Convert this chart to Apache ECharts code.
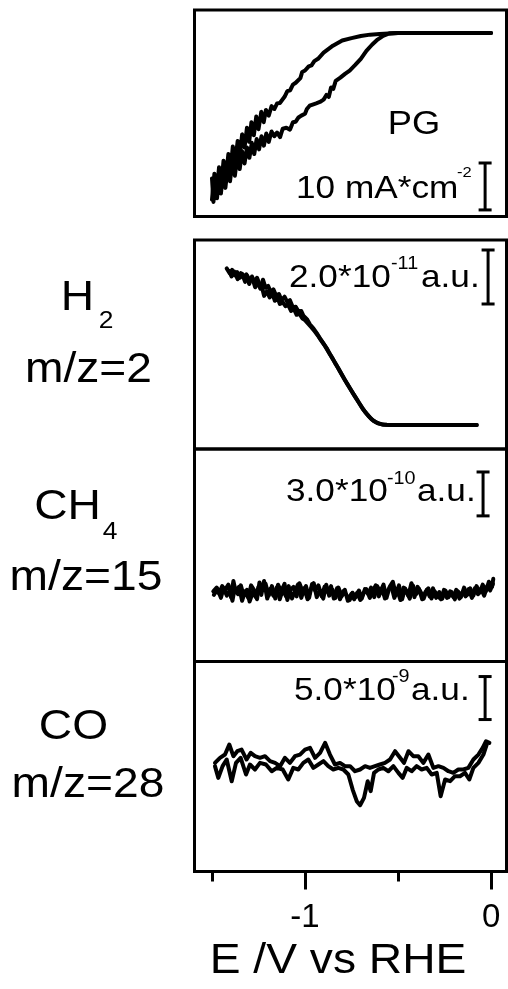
<!DOCTYPE html>
<html><head><meta charset="utf-8">
<script src="https://cdn.jsdelivr.net/npm/echarts@6/dist/echarts.min.js"></script>
<style>html,body{margin:0;padding:0;background:#fff}#c{width:508px;height:989px}</style>
</head><body><div id="c"></div>
<script>
// ---------- DATA (E in V vs RHE) ----------
// Panel 1: current density, mA*cm^-2
const cvUpper = [[0,0],[-0.2,0],[-0.4,0.02],[-0.5,-0.02],[-0.55,-0.08],[-0.6,-0.2],[-0.65,-0.35],[-0.7,-0.65],[-0.75,-1.1],[-0.8,-1.6],[-0.85,-2.7],[-0.9,-4.2],[-0.93,-5.5],[-0.95,-6.0],[-0.965,-6.9],[-0.98,-7.1],[-1.0,-8.0],[-1.015,-8.3],[-1.025,-9.6],[-1.035,-9.2],[-1.05,-10.6],[-1.065,-11.0],[-1.08,-12.2],[-1.095,-12.4],[-1.11,-13.6],[-1.12,-13.2],[-1.135,-14.9],[-1.15,-15.0],[-1.165,-16.2],[-1.18,-15.6],[-1.195,-17.6],[-1.21,-16.4],[-1.222,-19.0],[-1.235,-16.8],[-1.25,-20.5],[-1.262,-17.8],[-1.275,-21.8],[-1.288,-19.0],[-1.30,-23.2],[-1.312,-20.2],[-1.325,-24.4],[-1.338,-21.6],[-1.35,-26.0],[-1.362,-23.0],[-1.375,-27.5],[-1.388,-24.2],[-1.40,-29.0],[-1.412,-25.8],[-1.425,-30.8],[-1.438,-27.2],[-1.45,-32.5],[-1.462,-28.6],[-1.475,-34.0],[-1.487,-30.0],[-1.50,-35.5]];
const cvLower = [[-1.50,-31.0],[-1.492,-36.0],[-1.483,-31.5],[-1.473,-35.2],[-1.462,-30.5],[-1.452,-34.2],[-1.44,-29.6],[-1.428,-33.0],[-1.415,-28.4],[-1.403,-31.6],[-1.39,-27.2],[-1.377,-30.4],[-1.364,-26.2],[-1.351,-29.0],[-1.338,-25.2],[-1.325,-27.8],[-1.312,-24.4],[-1.299,-26.6],[-1.286,-23.4],[-1.273,-25.8],[-1.26,-22.6],[-1.247,-24.8],[-1.234,-22.0],[-1.221,-24.0],[-1.208,-21.4],[-1.195,-23.2],[-1.18,-21.0],[-1.165,-22.0],[-1.15,-21.2],[-1.134,-22.2],[-1.12,-20.4],[-1.10,-20.2],[-1.081,-20.6],[-1.065,-19.0],[-1.05,-18.9],[-1.035,-18.0],[-1.02,-17.6],[-1.0,-17.2],[-0.99,-16.2],[-0.975,-15.5],[-0.955,-15.2],[-0.94,-15.0],[-0.92,-14.7],[-0.9,-14.2],[-0.885,-13.2],[-0.872,-13.6],[-0.86,-11.6],[-0.848,-11.9],[-0.835,-10.2],[-0.81,-9.5],[-0.785,-8.7],[-0.76,-8.0],[-0.73,-6.8],[-0.70,-5.5],[-0.67,-3.8],[-0.64,-2.5],[-0.61,-1.4],[-0.58,-0.6],[-0.55,-0.15],[-0.5,0],[-0.3,0],[0,0]];
// Panel 2: H2 m/z=2, units of 1e-11 a.u.
const h2Fwd = [[-1.421,5.80],[-1.405,5.62],[-1.392,5.74],[-1.378,5.55],[-1.365,5.66],[-1.350,5.45],[-1.338,5.60],[-1.322,5.30],[-1.310,5.52],[-1.296,5.35],[-1.282,5.42],[-1.268,5.10],[-1.255,5.28],[-1.240,5.05],[-1.226,5.38],[-1.212,5.08],[-1.198,5.15],[-1.184,4.92],[-1.170,5.02],[-1.155,4.78],[-1.140,4.85],[-1.126,4.62],[-1.110,4.75],[-1.095,4.55],[-1.081,4.62],[-1.065,4.35],[-1.050,4.38],[-1.035,4.20],[-1.020,4.22],[-1.009,4.05],[-0.990,3.92],[-0.973,3.72],[-0.955,3.58],[-0.937,3.40],[-0.919,3.20],[-0.901,3.02],[-0.883,2.84],[-0.866,2.62],[-0.848,2.42],[-0.830,2.20],[-0.812,1.98],[-0.794,1.77],[-0.776,1.55],[-0.758,1.35],[-0.740,1.15],[-0.722,0.96],[-0.704,0.76],[-0.687,0.57],[-0.669,0.42],[-0.651,0.28],[-0.633,0.16],[-0.615,0.09],[-0.597,0.04],[-0.579,0.01],[-0.543,0],[-0.4,0],[-0.25,0],[-0.077,0]];
const h2Rev = [[-1.408,5.70],[-1.395,5.50],[-1.380,5.68],[-1.362,5.40],[-1.345,5.62],[-1.330,5.48],[-1.315,5.58],[-1.300,5.22],[-1.285,5.50],[-1.272,5.28],[-1.258,5.45],[-1.245,5.22],[-1.232,5.12],[-1.220,4.78],[-1.205,4.95],[-1.190,4.72],[-1.176,4.88],[-1.162,4.60],[-1.148,4.72],[-1.135,4.48],[-1.120,4.55],[-1.105,4.40],[-1.090,4.45],[-1.075,4.22],[-1.060,4.30],[-1.045,4.08],[-1.030,4.12],[-1.015,3.95],[-1.000,3.88],[-0.982,3.74],[-0.964,3.60],[-0.946,3.45],[-0.928,3.28],[-0.910,3.10],[-0.892,2.92],[-0.875,2.72],[-0.857,2.52],[-0.839,2.30],[-0.821,2.10],[-0.803,1.88],[-0.785,1.66],[-0.767,1.46],[-0.749,1.25],[-0.731,1.05],[-0.713,0.85],[-0.695,0.66],[-0.678,0.49],[-0.660,0.34],[-0.642,0.21],[-0.624,0.12],[-0.606,0.06],[-0.588,0.03],[-0.56,0.01],[-0.5,0],[-0.3,0],[-0.077,0]];
// Panel 3: CH4 m/z=15, units of 1e-10 a.u.
const ch4A = [[-1.493,0.10],[-1.475,0.35],[-1.462,-0.05],[-1.445,0.45],[-1.430,0.20],[-1.412,0.55],[-1.398,-0.30],[-1.385,0.80],[-1.372,0.05],[-1.355,0.40],[-1.338,-0.55],[-1.322,0.10],[-1.305,-0.35],[-1.290,0.50],[-1.272,0.15],[-1.258,-0.45],[-1.245,0.70],[-1.228,0.25],[-1.212,0.62],[-1.195,-0.20],[-1.178,0.45],[-1.160,-0.40],[-1.145,0.55],[-1.128,0.10],[-1.110,0.60],[-1.095,-0.50],[-1.078,0.20],[-1.062,0.40],[-1.045,-0.25],[-1.030,0.65],[-1.012,0.05],[-0.995,0.45],[-0.978,-0.35],[-0.962,0.60],[-0.945,0.15],[-0.928,0.50],[-0.910,-0.25],[-0.895,0.40],[-0.878,0.05],[-0.860,0.45],[-0.845,-0.40],[-0.828,0.30],[-0.812,-0.45],[-0.795,0.10],[-0.778,-0.15],[-0.760,-0.50],[-0.745,0.00],[-0.728,-0.30],[-0.710,0.15],[-0.695,-0.40],[-0.678,0.25],[-0.660,-0.10],[-0.645,0.35],[-0.628,-0.30],[-0.612,0.45],[-0.595,0.05],[-0.578,0.55],[-0.562,-0.35],[-0.545,0.40],[-0.528,0.75],[-0.512,-0.10],[-0.495,0.50],[-0.478,-0.45],[-0.462,0.30],[-0.445,-0.20],[-0.428,0.65],[-0.412,-0.30],[-0.395,0.40],[-0.378,0.05],[-0.362,-0.40],[-0.345,0.20],[-0.330,-0.25],[-0.312,0.30],[-0.295,-0.35],[-0.278,0.05],[-0.262,-0.40],[-0.245,0.15],[-0.228,-0.30],[-0.212,0.05],[-0.195,-0.45],[-0.178,0.10],[-0.162,-0.30],[-0.145,0.35],[-0.128,-0.15],[-0.112,0.30],[-0.095,-0.20],[-0.078,0.45],[-0.062,0.00],[-0.045,0.55],[-0.028,0.10],[-0.012,0.75],[0.005,0.40],[0.012,0.95]];
const ch4B = [[-1.490,-0.15],[-1.470,0.25],[-1.452,-0.35],[-1.438,0.30],[-1.420,-0.20],[-1.405,0.15],[-1.390,-0.55],[-1.378,0.30],[-1.360,-0.10],[-1.345,0.50],[-1.330,-0.20],[-1.312,0.20],[-1.298,-0.60],[-1.280,0.05],[-1.265,-0.30],[-1.250,0.40],[-1.235,-0.15],[-1.220,0.80],[-1.203,-0.40],[-1.188,0.25],[-1.170,-0.20],[-1.152,0.35],[-1.136,-0.45],[-1.120,0.20],[-1.102,-0.25],[-1.088,0.45],[-1.070,-0.40],[-1.054,0.10],[-1.038,0.55],[-1.020,-0.35],[-1.004,0.30],[-0.986,-0.45],[-0.970,0.20],[-0.953,0.65],[-0.937,-0.30],[-0.920,0.15],[-0.902,-0.40],[-0.886,0.55],[-0.870,-0.20],[-0.852,0.20],[-0.836,-0.35],[-0.820,0.35],[-0.803,-0.25],[-0.786,0.20],[-0.770,-0.55],[-0.752,-0.10],[-0.736,-0.45],[-0.720,0.00],[-0.703,-0.50],[-0.686,-0.05],[-0.670,0.25],[-0.652,-0.35],[-0.636,0.10],[-0.620,0.50],[-0.603,-0.25],[-0.586,0.30],[-0.570,-0.40],[-0.553,0.20],[-0.536,0.45],[-0.520,-0.35],[-0.503,0.15],[-0.487,-0.50],[-0.470,0.35],[-0.453,0.05],[-0.437,-0.40],[-0.420,0.50],[-0.403,-0.10],[-0.387,0.25],[-0.370,-0.45],[-0.353,0.05],[-0.337,0.30],[-0.320,-0.40],[-0.303,0.10],[-0.287,-0.20],[-0.270,-0.45],[-0.253,0.20],[-0.237,-0.35],[-0.220,0.10],[-0.203,-0.30],[-0.187,0.20],[-0.170,-0.40],[-0.153,0.05],[-0.137,-0.25],[-0.120,0.25],[-0.103,-0.35],[-0.087,0.30],[-0.070,-0.10],[-0.053,0.25],[-0.037,-0.20],[-0.020,0.45],[-0.005,0.15],[0.010,0.60]];
// Panel 4: CO m/z=28, units of 1e-9 a.u.
const coA = [[-1.484,0.19],[-1.457,0.78],[-1.430,1.16],[-1.407,2.33],[-1.385,0.97],[-1.364,1.55],[-1.341,1.74],[-1.314,0.58],[-1.292,1.36],[-1.269,0.97],[-1.242,0.78],[-1.215,0.97],[-1.188,0.39],[-1.161,0.19],[-1.134,-0.19],[-1.108,0.78],[-1.081,0.19],[-1.054,0.97],[-1.027,1.16],[-1.000,1.74],[-0.973,1.94],[-0.946,0.78],[-0.919,1.36],[-0.892,2.52],[-0.866,1.16],[-0.839,0.00],[-0.812,0.19],[-0.785,-0.19],[-0.758,-0.19],[-0.731,-0.78],[-0.704,-0.58],[-0.677,-0.19],[-0.651,-0.39],[-0.624,-0.19],[-0.597,0.00],[-0.570,0.19],[-0.543,0.58],[-0.516,1.55],[-0.489,0.78],[-0.468,0.19],[-0.444,1.55],[-0.418,0.97],[-0.391,0.97],[-0.364,0.19],[-0.337,1.16],[-0.310,-0.39],[-0.283,-0.19],[-0.256,-0.39],[-0.229,-0.78],[-0.203,-0.97],[-0.176,-0.58],[-0.149,-0.58],[-0.122,-0.39],[-0.095,0.58],[-0.068,1.16],[-0.045,1.94],[-0.027,2.71],[-0.009,2.52]];
const coB = [[-1.484,-0.19],[-1.466,-1.55],[-1.443,-0.19],[-1.421,0.58],[-1.394,-1.94],[-1.371,0.19],[-1.346,0.78],[-1.317,-1.16],[-1.296,0.00],[-1.269,-0.58],[-1.242,0.19],[-1.210,0.00],[-1.179,-0.78],[-1.152,-0.39],[-1.120,-0.58],[-1.090,-1.74],[-1.063,-0.39],[-1.036,-0.58],[-1.009,0.19],[-0.982,0.58],[-0.955,-0.39],[-0.928,0.00],[-0.901,0.39],[-0.875,-0.19],[-0.848,-0.58],[-0.821,-0.39],[-0.794,-0.58],[-0.767,-1.16],[-0.744,-2.91],[-0.722,-4.26],[-0.704,-4.73],[-0.683,-3.88],[-0.663,-1.94],[-0.647,-3.10],[-0.629,-0.97],[-0.606,-0.58],[-0.579,-0.39],[-0.552,-0.78],[-0.525,-0.19],[-0.498,-0.97],[-0.475,-1.55],[-0.453,-0.39],[-0.427,-0.78],[-0.400,-0.19],[-0.373,-0.58],[-0.346,-0.39],[-0.319,-1.16],[-0.292,-0.97],[-0.271,-3.68],[-0.247,-1.74],[-0.220,-1.94],[-0.194,-1.36],[-0.167,-1.36],[-0.140,-0.97],[-0.117,-1.74],[-0.095,-0.39],[-0.068,0.19],[-0.041,1.16],[-0.023,2.33]];
// Scale bars: [E, start, end] in each panel's units (10 mA*cm^-2, 2.0, 3.0, 5.0)
const barCurrent = [[-0.032,-27.7,-37.7]];
const barH2 = [[-0.016,6.48,4.48]];
const barCH4 = [[-0.043,8.25,5.25]];
const barCO = [[-0.032,10.23,5.23]];
// Axis ticks and labels
const xMajorTicks = [-1, 0];
const xMinorTicks = [-1.5, -0.5];
const xRange = [-1.594, 0.083];
const yRanges = [[-39.1, 4.9], [-0.89, 6.85], [-4.70, 9.82], [-12.44, 11.98]];

// ---------- LAYOUT ----------
const FONT = 'Liberation Sans, Arial, sans-serif';
const L = 194.5, W = 312;
const grids = [
  {left: L, top: 10, width: W, height: 206.5},
  {left: L, top: 240, width: W, height: 209},
  {left: L, top: 449, width: W, height: 212.5},
  {left: L, top: 661.5, width: W, height: 210}
].map(g => Object.assign(g, {show: true, borderColor: '#000', borderWidth: 3, backgroundColor: 'transparent'}));

const hiddenX = i => ({type: 'value', gridIndex: i, min: xRange[0], max: xRange[1], axisLine: {show: false, onZero: false}, axisTick: {show: false}, axisLabel: {show: false}, splitLine: {show: false}});
const xAxes = [hiddenX(0), hiddenX(1), hiddenX(2),
  {type: 'value', gridIndex: 3, position: 'bottom', min: xRange[0], max: xRange[1], axisLine: {show: false, onZero: false}, splitLine: {show: false},
   axisTick: {show: true, customValues: xMajorTicks, length: 18, lineStyle: {color: '#000', width: 3}},
   axisLabel: {show: true, customValues: xMajorTicks, color: '#000', fontSize: 33, fontFamily: FONT, margin: 30, formatter: v => String(v)}},
  {type: 'value', gridIndex: 3, position: 'bottom', offset: 0, min: xRange[0], max: xRange[1], axisLine: {show: false, onZero: false}, splitLine: {show: false},
   axisTick: {show: true, customValues: xMinorTicks, length: 10, lineStyle: {color: '#000', width: 3}},
   axisLabel: {show: false}}
];
const yAxes = yRanges.map((r, i) => ({type: 'value', gridIndex: i, min: r[0], max: r[1], axisLine: {show: false, onZero: false}, axisTick: {show: false}, axisLabel: {show: false}, splitLine: {show: false}}));

const lineS = (data, gi) => ({type: 'line', xAxisIndex: gi, yAxisIndex: gi, data, showSymbol: false, symbol: 'none', smooth: false, silent: true,
  lineStyle: {color: '#000', width: 4, join: 'round', cap: 'round'}, clip: true});
const barS = (data, gi) => ({type: 'custom', xAxisIndex: gi, yAxisIndex: gi, data, silent: true,
  renderItem(params, api) {
    const p1 = api.coord([api.value(0), api.value(1)]);
    const p2 = api.coord([api.value(0), api.value(2)]);
    const w = 6.5, st = {stroke: '#000', lineWidth: 3};
    return {type: 'group', children: [
      {type: 'line', shape: {x1: p1[0], y1: p1[1], x2: p2[0], y2: p2[1]}, style: st},
      {type: 'line', shape: {x1: p1[0] - w, y1: p1[1], x2: p1[0] + w, y2: p1[1]}, style: st},
      {type: 'line', shape: {x1: p2[0] - w, y1: p2[1], x2: p2[0] + w, y2: p2[1]}, style: st}
    ]};
  }});

const SX = 1.1;
const txt = (text, x, y, size, align) => ({type: 'text', x, y, scaleX: SX, silent: true,
  style: {text, fontSize: size, fontFamily: FONT, fill: '#000', align: align || 'left', verticalAlign: 'middle', textAlign: align || 'left', textVerticalAlign: 'middle'}});

const graphic = [
  txt('PG', 414, 125, 33, 'center'),
  txt('10 mA*cm', 296, 189, 32, 'left'),
  txt('-2', 457, 173, 15, 'left'),
  txt('2.0*10', 289, 278.5, 32, 'left'),
  txt('-11', 391, 264, 18, 'left'),
  txt('a.u.', 421, 278.5, 32, 'left'),
  txt('3.0*10', 286, 492.5, 32, 'left'),
  txt('-10', 387, 479, 18, 'left'),
  txt('a.u.', 417, 492.5, 32, 'left'),
  txt('5.0*10', 294, 691.5, 32, 'left'),
  txt('-9', 392, 677.5, 18, 'left'),
  txt('a.u.', 411, 691.5, 32, 'left'),
  txt('H', 77.5, 298.5, 42, 'center'),
  txt('2', 106, 321, 24, 'center'),
  txt('m/z=2', 88.5, 370, 42, 'center'),
  txt('CH', 67.5, 507.5, 42, 'center'),
  txt('4', 110, 532, 24, 'center'),
  txt('m/z=15', 86, 578, 42, 'center'),
  txt('CO', 73.5, 727.5, 42, 'center'),
  txt('m/z=28', 88, 785, 42, 'center'),
  txt('E /V vs RHE', 338, 961, 42, 'center')
];
graphic.forEach(g => { if (g.style.align === 'center') { g.originX = g.x; g.originY = g.y; g.x = 0; g.y = 0; g.style.x = g.originX; g.style.y = g.originY; } });

const chart = echarts.init(document.getElementById('c'), null, {renderer: 'canvas'});
chart.setOption({
  animation: false,
  backgroundColor: '#fff',
  grid: grids,
  xAxis: xAxes,
  yAxis: yAxes,
  series: [
    lineS(cvUpper, 0), lineS(cvLower, 0), barS(barCurrent, 0),
    lineS(h2Fwd, 1), lineS(h2Rev, 1), barS(barH2, 1),
    lineS(ch4A, 2), lineS(ch4B, 2), barS(barCH4, 2),
    lineS(coA, 3), lineS(coB, 3), barS(barCO, 3)
  ],
  graphic: graphic
});
</script>
</body></html>
